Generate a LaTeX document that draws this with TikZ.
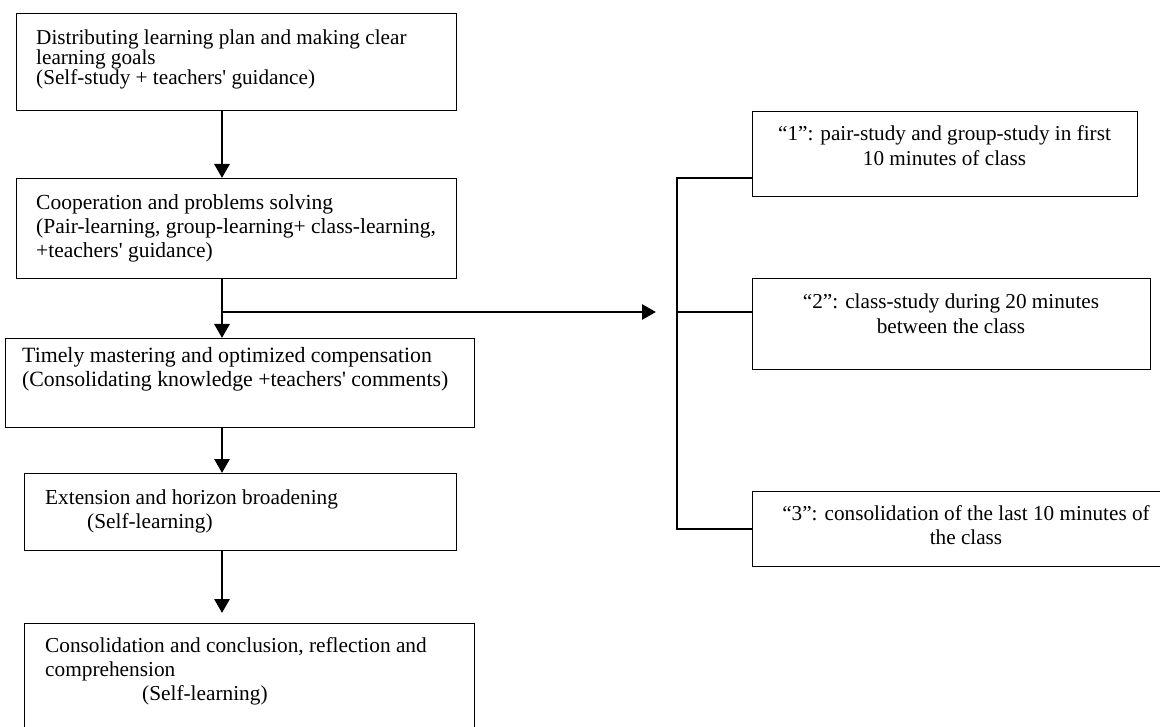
\documentclass[tikz,border=0pt]{standalone}
\usepackage{fontspec}
\setmainfont{Liberation Serif}
\usetikzlibrary{arrows.meta,calc}
\begin{document}
\begin{tikzpicture}[x=1pt,y=-1pt,
  box/.style={draw, line width=1.4pt, inner sep=0pt, anchor=north west},
  txt/.style={inner sep=0pt, anchor=north west, align=left},
  ctxt/.style={inner sep=0pt, anchor=north, align=center},
  flow/.style={line width=2.8pt, -{Triangle[length=14pt,width=15pt]}},
  link/.style={line width=1.8pt}]
\useasboundingbox (0,0) rectangle (1160,727);
% left column boxes
\node[box, minimum width=440pt, minimum height=97pt]  (b1) at (16,13) {};
\node[box, minimum width=440pt, minimum height=100pt] (b2) at (16,178) {};
\node[box, minimum width=469pt, minimum height=89pt]  (b3) at (5,338) {};
\node[box, minimum width=432pt, minimum height=77pt]  (b4) at (24,473) {};
\node[box, minimum width=450pt, minimum height=120pt] (b5) at (24,623) {};
% right column boxes
\node[box, minimum width=385pt, minimum height=85pt] (r1) at (752,111) {};
\node[box, minimum width=398pt, minimum height=91pt] (r2) at (752,278) {};
\node[box, minimum width=438pt, minimum height=75pt] (r3) at (752,491) {};
% texts
\node[txt, font=\fontsize{21.2}{20}\selectfont] (t1) at (36,30)
  {Distributing learning plan and making clear\\learning goals\\(Self-study + teachers\textquotesingle{} guidance)};
\node[txt, font=\fontsize{21.5}{24.3}\selectfont] (t2) at (36,194)
  {Cooperation and problems solving\\(Pair-learning, group-learning+ class-learning,\\+teachers\textquotesingle{} guidance)};
\node[txt, font=\fontsize{21.8}{24.3}\selectfont] (t3) at (22,347.2)
  {Timely mastering and optimized compensation\\(Consolidating knowledge +teachers\textquotesingle{} comments)};
\node[txt, font=\fontsize{21.3}{24}\selectfont] (t4) at (45,490)
  {Extension and horizon broadening\\\hspace*{42pt}(Self-learning)};
\node[txt, font=\fontsize{21.3}{24}\selectfont] (t5) at (45,637.2)
  {Consolidation and conclusion, reflection and\\comprehension\\\hspace*{97pt}(Self-learning)};
\node[ctxt, font=\fontsize{21.2}{25}\selectfont] (u1) at (944.5,125.7)
  {“1”: pair-study and group-study in first\\10 minutes of class};
\node[ctxt, font=\fontsize{21.2}{24.4}\selectfont] (u2) at (951,294)
  {“2”: class-study during 20 minutes\\between the class};
\node[ctxt, font=\fontsize{21.2}{24}\selectfont] (u3) at (966,505)
  {“3”: consolidation of the last 10 minutes of\\the class};
% flow arrows
\coordinate (ax) at (222,0);
\draw[flow] (b1.south -| ax) -- (b2.north -| ax);
\draw[flow] (b2.south -| ax) -- (b3.north -| ax);
\draw[flow] (b3.south -| ax) -- (b4.north -| ax);
\draw[flow, shorten >=10pt] (b4.south -| ax) -- (b5.north -| ax);
\coordinate (split) at (222,312);
\coordinate (tip) at (656,312);
\draw[flow] (split) -- (tip);
% bracket
\coordinate (bx) at (677,0);
\coordinate (k1) at (0,178);
\coordinate (k3) at (0,529);
\draw[link] (r1.west |- k1) -- (bx |- k1) -- (bx |- k3) -- (r3.west |- k3);
\draw[link] (bx |- split) -- (r2.west |- split);
\end{tikzpicture}
\end{document}
